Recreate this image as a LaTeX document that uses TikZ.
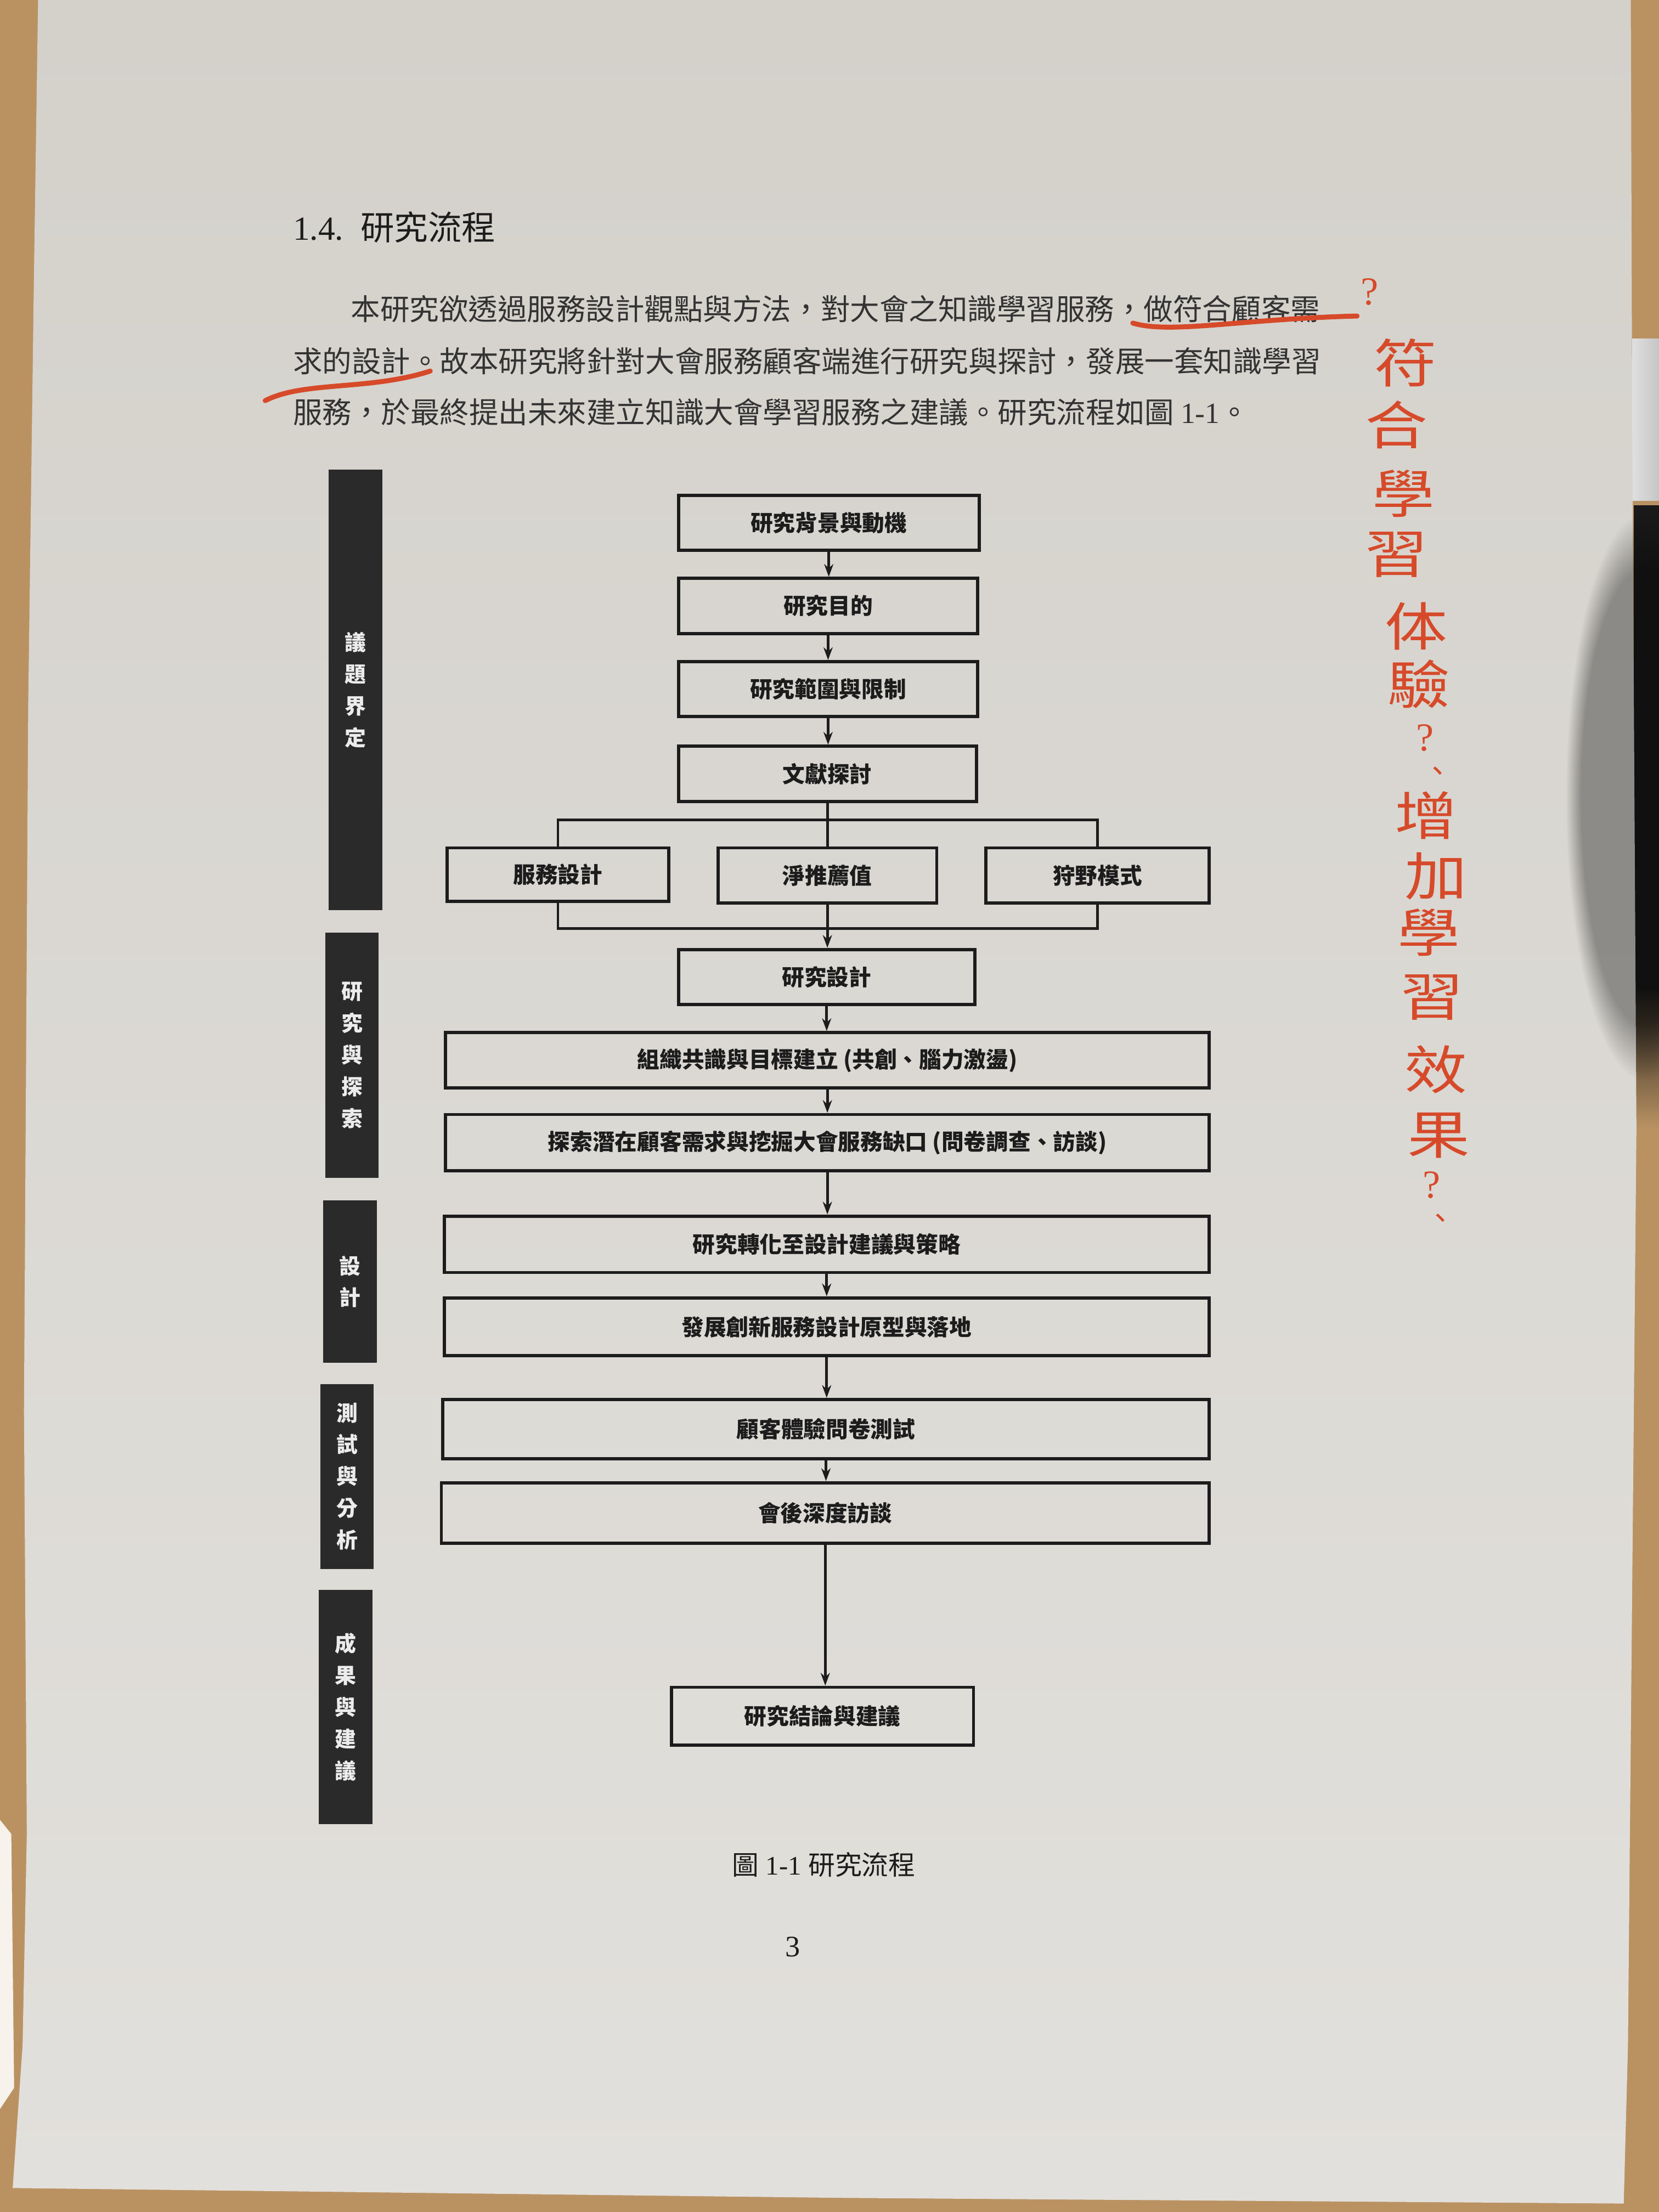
\documentclass[tikz,border=0pt]{standalone}
\usepackage{fontspec}
\setmainfont{Liberation Serif}
\newfontfamily\cjk{Noto Sans CJK TC}
\usetikzlibrary{arrows.meta,fadings}

\definecolor{wood}{RGB}{186,146,98}
\definecolor{papertop}{RGB}{212,209,203}
\definecolor{paperbot}{RGB}{226,224,220}
\definecolor{barcol}{RGB}{42,42,42}
\definecolor{inkred}{RGB}{214,74,42}
\definecolor{inkgray}{RGB}{28,28,28}

\tikzset{
	flowbox/.style={draw=inkgray, line width=0.65pt, inner sep=0pt, text=inkgray,
		font=\cjk\bfseries\fontsize{4.5pt}{5pt}\selectfont},
	sidebar/.style={fill=barcol, inner sep=0pt, minimum width=0.38cm, align=center,
		text=white!85!gray, font=\cjk\bfseries\fontsize{4.3pt}{6.4pt}\selectfont},
	flowline/.style={draw=inkgray, line width=0.55pt},
	flowarrow/.style={flowline, -{Stealth[length=0.9mm,width=0.65mm]}},
	bodytext/.style={anchor=west, inner sep=0pt, text=inkgray!90,
		font=\cjk\fontsize{5.92pt}{6pt}\selectfont},
	hand/.style={text=inkred, inner sep=0pt, xscale=1.2,
		font=\cjk\fontsize{10.5pt}{11pt}\selectfont},
	handmark/.style={text=inkred, inner sep=0pt, font=\fontsize{8pt}{8pt}\selectfont},
	handcomma/.style={text=inkred, inner sep=0pt, font=\cjk\fontsize{6pt}{6pt}\selectfont},
}

\begin{document}
\begin{tikzpicture}[x=0.01cm, y=-0.01cm]
			%%%%% START %%%%%
			\useasboundingbox (0,0) rectangle (1176,1568);
			
			% desk, coin and the dark object at the right
			\fill[wood] (0,0) rectangle (1176,1568);
			\shade[left color=gray!25, right color=gray!45] (1157,240) rectangle (1176,355);
			\fill[black!90] (1158,358) rectangle (1176,700);
			\shade[top color=black!90, bottom color=wood] (1158,700) rectangle (1176,800);
			\fill[white!88!wood] (0,1290) -- (8,1300) -- (10,1480) -- (0,1495) -- cycle;
			
			% the page
			\shade[top color=papertop, bottom color=paperbot]
				(27,0) -- (24,200) -- (20,500) -- (17,1000) -- (19,1300) -- (16,1450) -- (9,1551)
				-- (600,1558) -- (1151,1562) -- (1154,1450) -- (1160,800) -- (1157,300) -- (1156,0) -- cycle;
			\fill[black, opacity=0.35, path fading=circle with fuzzy edge 20 percent]
				(1165,565) ellipse [x radius=0.55cm, y radius=2cm];
			
			% heading and paragraph
			\node[anchor=west, inner sep=0pt, text=inkgray, font=\fontsize{6.8pt}{7pt}\selectfont]
				(head) at (207,161) {1.4.\hspace{0.5em}{\cjk 研究流程}};
			\node[bodytext] (par1) at (248,219) {本研究欲透過服務設計觀點與方法，對大會之知識學習服務，做符合顧客需};
			\node[bodytext] (par2) at (207,256) {求的設計。故本研究將針對大會服務顧客端進行研究與探討，發展一套知識學習};
			\node[bodytext] (par3) at (207,292) {服務，於最終提出未來建立知識大會學習服務之建議。研究流程如圖 {\rmfamily 1-1}。};
			
			% side bars
			\node[sidebar, minimum height=3.12cm] (stage1) at (252,489) {議\\題\\界\\定};
			\node[sidebar, minimum height=1.74cm] (stage2) at (249.5,748) {研\\究\\與\\探\\索};
			\node[sidebar, minimum height=1.15cm] (stage3) at (248,908.5) {設\\計};
			\node[sidebar, minimum height=1.31cm] (stage4) at (246,1046.5) {測\\試\\與\\分\\析};
			\node[sidebar, minimum height=1.66cm] (stage5) at (245,1210) {成\\果\\與\\建\\議};
			
			% flow boxes
			\node[flowbox, minimum width=2.13cm, minimum height=0.39cm] (bg) at (587.5,370.5) {研究背景與動機};
			\node[flowbox, minimum width=2.12cm, minimum height=0.39cm] (aim) at (587,429.5) {研究目的};
			\node[flowbox, minimum width=2.12cm, minimum height=0.39cm] (scope) at (587,488.5) {研究範圍與限制};
			\node[flowbox, minimum width=2.11cm, minimum height=0.39cm] (lit) at (586.5,548.5) {文獻探討};
			\node[flowbox, minimum width=1.57cm, minimum height=0.38cm] (sd) at (395.5,620) {服務設計};
			\node[flowbox, minimum width=1.55cm, minimum height=0.39cm] (nps) at (586.5,620.5) {淨推薦值};
			\node[flowbox, minimum width=1.58cm, minimum height=0.39cm] (kano) at (778,620.5) {狩野模式};
			\node[flowbox, minimum width=2.10cm, minimum height=0.39cm] (rd) at (586,692.5) {研究設計};
			\node[flowbox, minimum width=5.41cm, minimum height=0.39cm] (goal) at (586.5,751.5) {組織共識與目標建立 (共創、腦力激盪)};
			\node[flowbox, minimum width=5.41cm, minimum height=0.40cm] (need) at (586.5,810) {探索潛在顧客需求與挖掘大會服務缺口 (問卷調查、訪談)};
			\node[flowbox, minimum width=5.42cm, minimum height=0.40cm] (strat) at (586,882) {研究轉化至設計建議與策略};
			\node[flowbox, minimum width=5.42cm, minimum height=0.41cm] (proto) at (586,940.5) {發展創新服務設計原型與落地};
			\node[flowbox, minimum width=5.43cm, minimum height=0.42cm] (test) at (585.5,1013) {顧客體驗問卷測試};
			\node[flowbox, minimum width=5.44cm, minimum height=0.43cm] (talk) at (585,1072.5) {會後深度訪談};
			\node[flowbox, minimum width=2.14cm, minimum height=0.41cm] (end) at (583,1216.5) {研究結論與建議};
			
			% connectors
			\coordinate (split) at (586.5,581);
			\coordinate (merge) at (586.5,658);
			\draw[flowarrow] (bg.south) -- (bg.south |- aim.north);
			\draw[flowarrow] (aim.south) -- (aim.south |- scope.north);
			\draw[flowarrow] (scope.south) -- (scope.south |- lit.north);
			\draw[flowline] (lit.south) -- (lit.south |- nps.north);
			\draw[flowline] (sd.north) |- (split) -| (kano.north);
			\draw[flowline] (sd.south) |- (merge) -| (kano.south);
			\draw[flowarrow] (nps.south) -- (nps.south |- rd.north);
			\draw[flowarrow] (rd.south) -- (rd.south |- goal.north);
			\draw[flowarrow] (goal.south) -- (goal.south |- need.north);
			\draw[flowarrow] (need.south) -- (need.south |- strat.north);
			\draw[flowarrow] (strat.south) -- (strat.south |- proto.north);
			\draw[flowarrow] (proto.south) -- (proto.south |- test.north);
			\draw[flowarrow] (test.south) -- (test.south |- talk.north);
			\draw[flowarrow] (talk.south) -- (talk.south |- end.north);
			
			% caption and page number
			\node[inner sep=0pt, text=inkgray, font=\fontsize{5.4pt}{6pt}\selectfont]
				(cap) at (584,1322) {{\cjk 圖} 1-1 {\cjk 研究流程}};
			\node[inner sep=0pt, text=inkgray, font=\fontsize{6pt}{6pt}\selectfont] (pageno) at (562,1380) {3};
			
			% red pen notes
			\draw[inkred, line width=1pt, line cap=round] (803,229) .. controls (830,237) and (880,226) .. (962,224);
			\draw[inkred, line width=1pt, line cap=round] (188,284) .. controls (215,270) and (262,277) .. (305,263);
			\node[handmark] (hq1) at (971,207) {?};
			\foreach \x/\y/\c [count=\i] in {996/257/符, 990/301/合, 995/350/學, 990/393/習, 1004/444/体, 1006/485/驗,
					1011/578/增, 1018/621/加, 1013/661/學, 1015/707/習, 1018/758/效, 1020/805/果}
				\node[hand] (hw\i) at (\x,\y) {\c};
			\node[handmark] (hq2) at (1010,523) {?};
			\node[handcomma] (hc2) at (1019,549) {、};
			\node[handmark] (hq3) at (1015,840) {?};
			\node[handcomma] (hc3) at (1021,866) {、};
			
			%%%%% END %%%%%
		\end{tikzpicture}
\end{document}
